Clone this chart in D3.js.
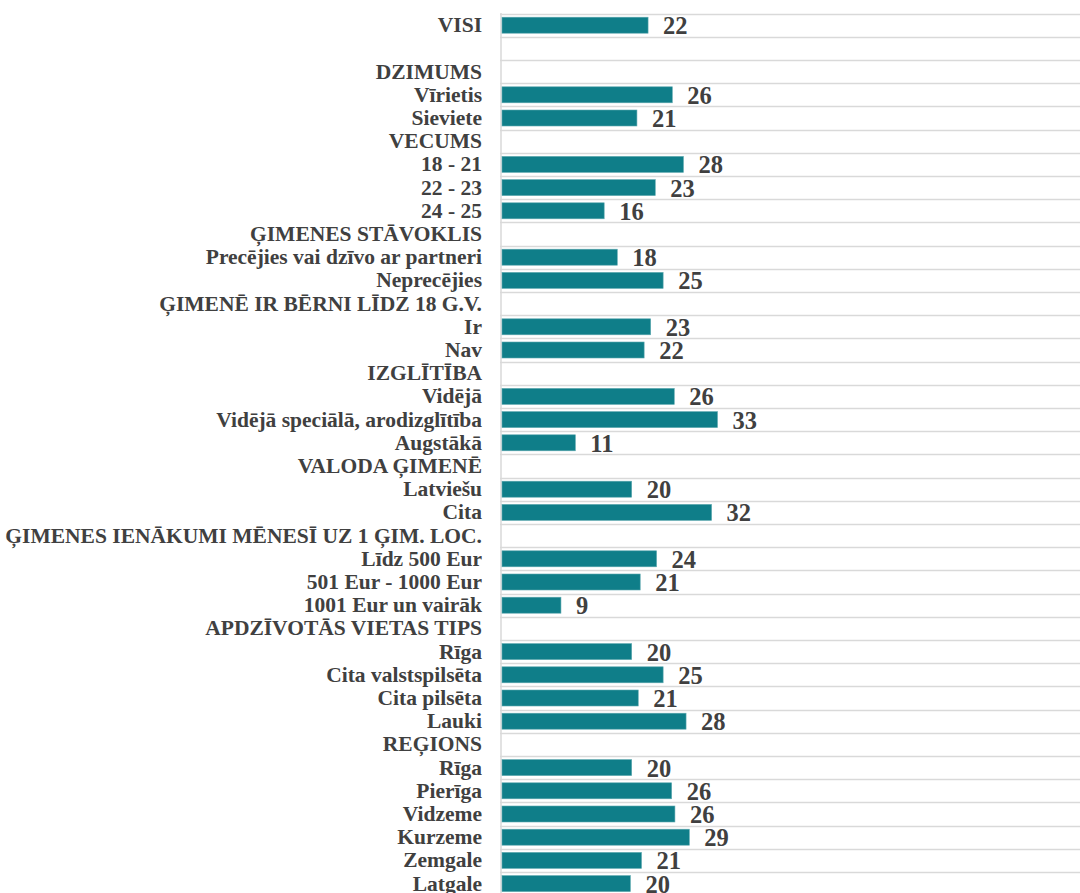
<!DOCTYPE html>
<html><head><meta charset="utf-8">
<script src="https://cdn.jsdelivr.net/npm/d3@7/dist/d3.min.js"></script>
<style>
html,body{margin:0;padding:0;background:#fff;overflow:hidden}
text{font-family:"Liberation Serif","Times New Roman",serif;font-weight:bold;fill:#404040}
</style></head>
<body><svg id="chart" width="1080" height="893"></svg>
<script>
const categories = [
 "VISI","","DZIMUMS","Vīrietis","Sieviete","VECUMS","18 - 21","22 - 23","24 - 25",
 "ĢIMENES STĀVOKLIS","Precējies vai dzīvo ar partneri","Neprecējies",
 "ĢIMENĒ IR BĒRNI LĪDZ 18 G.V.","Ir","Nav","IZGLĪTĪBA","Vidējā",
 "Vidējā speciālā, arodizglītība","Augstākā","VALODA ĢIMENĒ","Latviešu","Cita",
 "ĢIMENES IENĀKUMI MĒNESĪ UZ 1 ĢIM. LOC.","Līdz 500 Eur","501 Eur - 1000 Eur",
 "1001 Eur un vairāk","APDZĪVOTĀS VIETAS TIPS","Rīga","Cita valstspilsēta",
 "Cita pilsēta","Lauki","REĢIONS","Rīga","Pierīga","Vidzeme","Kurzeme","Zemgale","Latgale"
];
const values = [
 22.3,null,null,26.0,20.6,null,27.7,23.4,15.6,
 null,17.6,24.6,
 null,22.7,21.7,null,26.3,
 32.9,11.2,null,19.8,32.0,
 null,23.6,21.1,
 9.0,null,19.8,24.6,
 20.8,28.1,null,19.8,25.9,26.4,28.6,21.3,19.6
];

const svg = d3.select("#chart");
const ids = categories.map((c,i)=>i);
const y = d3.scaleBand().domain(ids).range([13.6, 13.6 + 23.2*categories.length]).paddingInner(0.31).paddingOuter(0.155);
const x = d3.scaleLinear().domain([0,100]).range([502, 502+655]);

// horizontal grid lines at band boundaries
svg.append("g").selectAll("line").data(ids.map(i=>13.6+23.2*i)).join("line")
  .attr("x1",500).attr("x2",1080)
  .attr("y1",d=>Math.round(d)+0.5).attr("y2",d=>Math.round(d)+0.5)
  .attr("stroke","#d9d9d9").attr("stroke-width",1.3);

// vertical axis line
svg.append("line").attr("x1",501).attr("x2",501).attr("y1",13).attr("y2",893)
  .attr("stroke","#d9d9d9").attr("stroke-width",1.5);

const data = ids.filter(i=>values[i]!=null);

svg.append("g").selectAll("rect").data(data).join("rect")
  .attr("x",x(0)).attr("y",i=>y(i)).attr("height",y.bandwidth())
  .attr("width",i=>x(values[i])-x(0))
  .attr("fill","#0f7e89").attr("stroke","#5fa9b0").attr("stroke-width",0.6);

const fmt = d3.format(".0f");
svg.append("g").selectAll("text").data(data).join("text")
  .attr("x",i=>x(values[i])+15).attr("y",i=>y(i)+y.bandwidth()/2+9)
  .attr("font-size","24.5px").text(i=>fmt(values[i]));

// category labels
svg.append("g").selectAll("text").data(ids).join("text")
  .attr("x",482).attr("y",i=>y(i)+y.bandwidth()/2+7)
  .attr("text-anchor","end").attr("font-size","21.5px")
  .text(i=>categories[i]);
</script></body></html>
